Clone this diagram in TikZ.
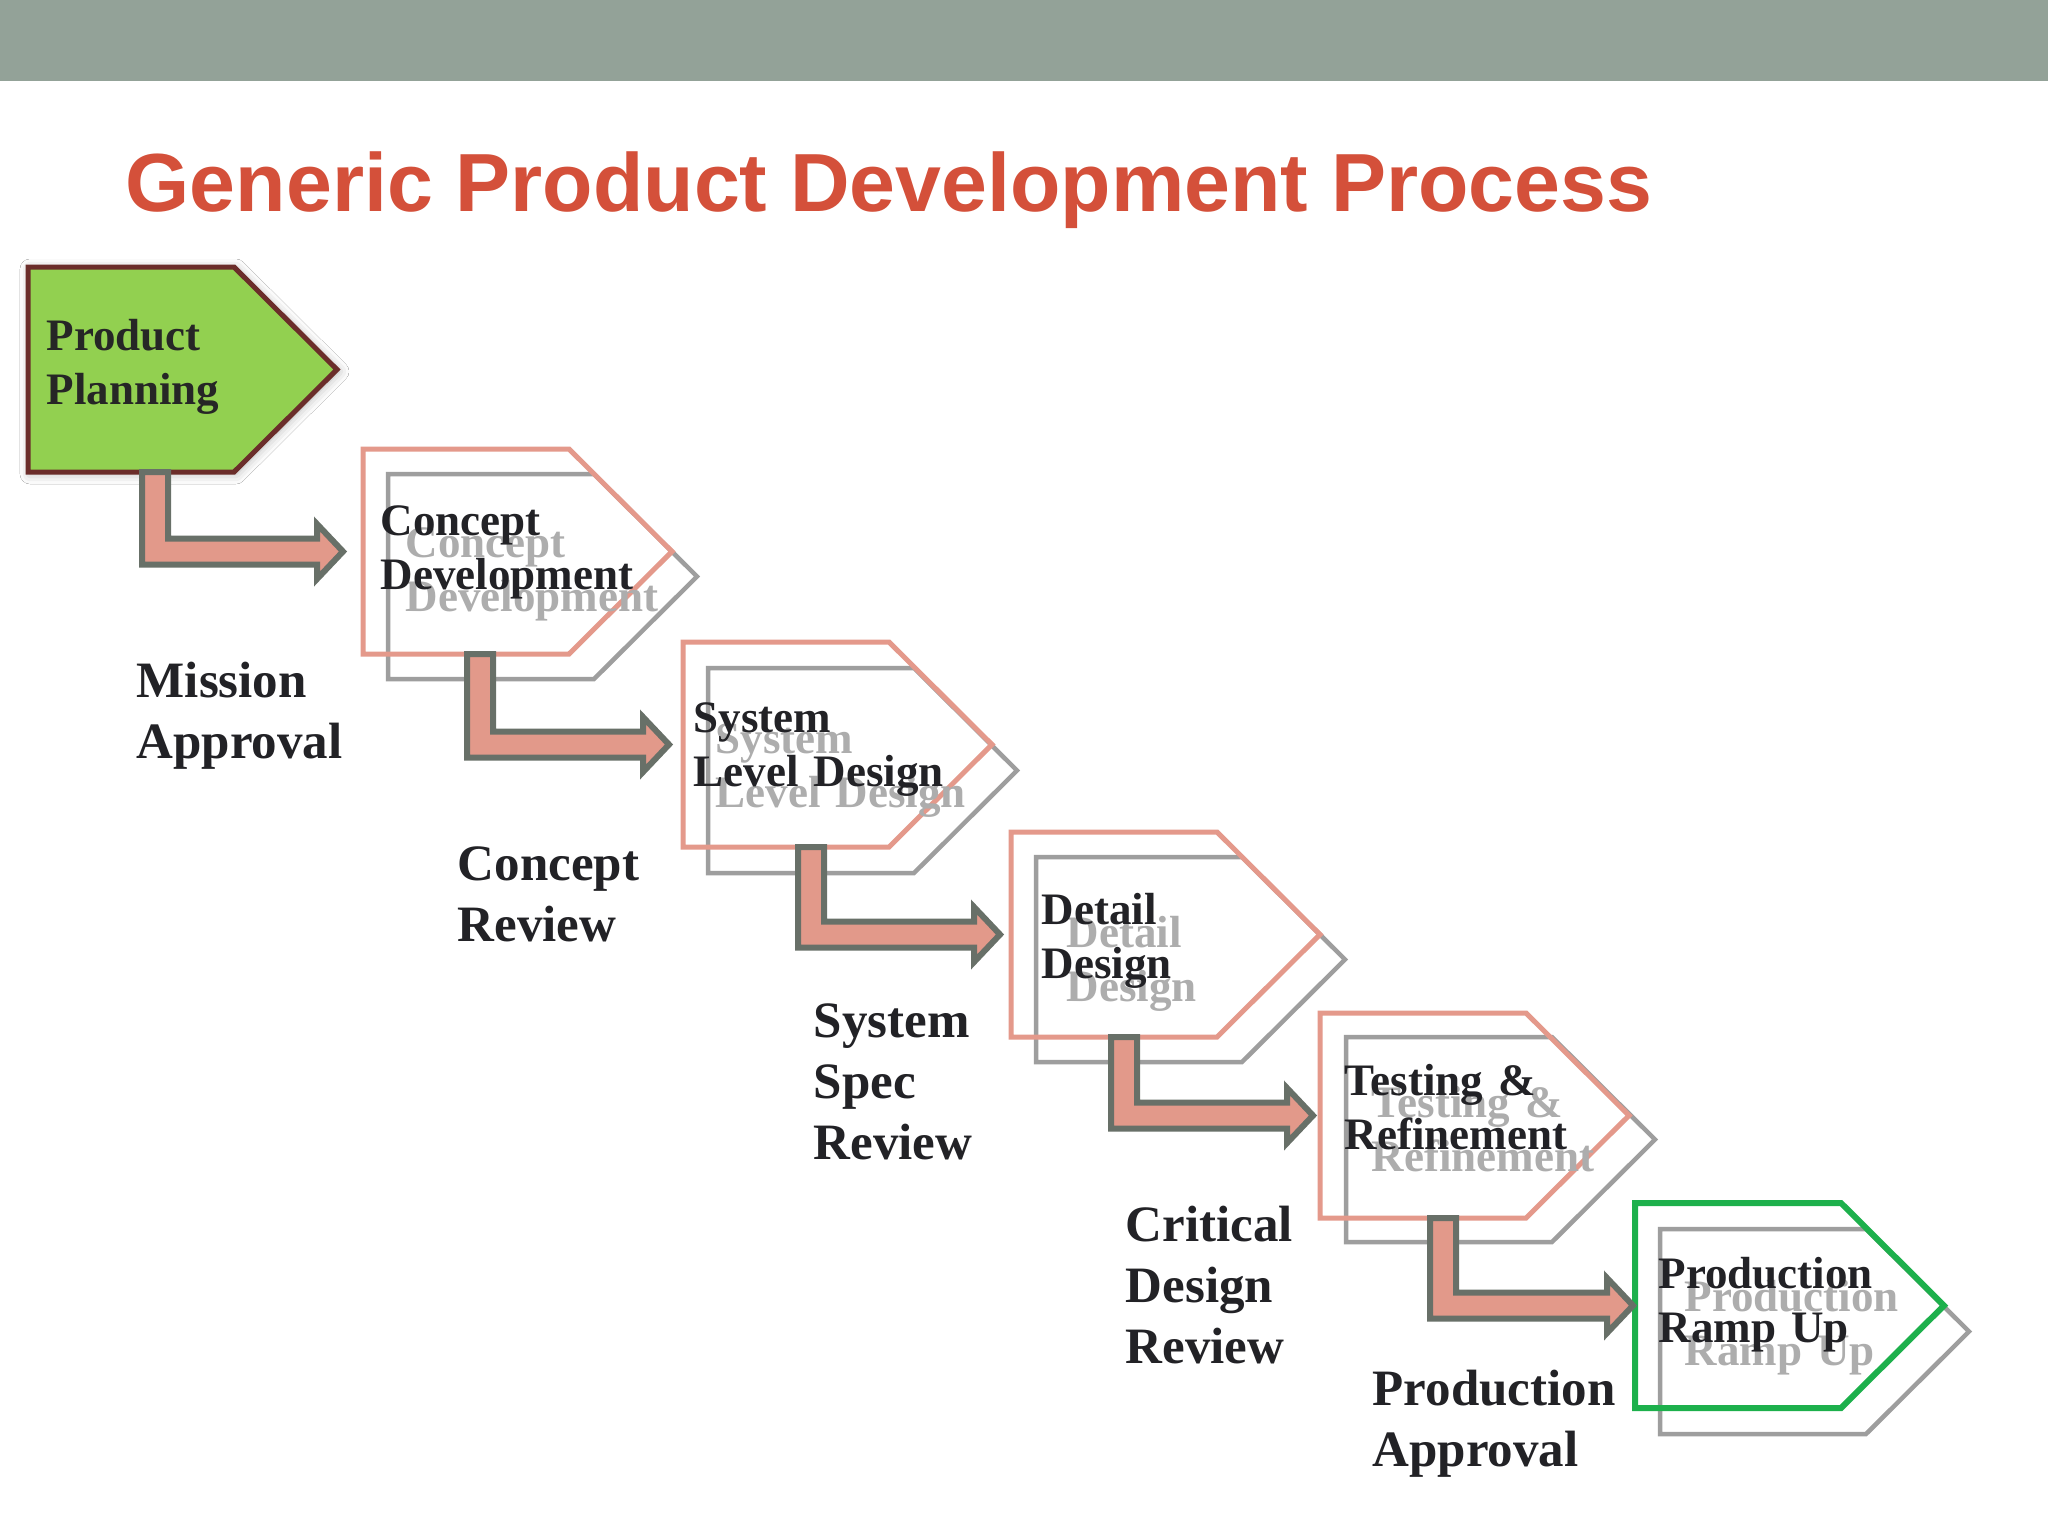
\documentclass[tikz,border=0pt]{standalone}
\usepackage{fontspec}
\setmainfont{Liberation Serif}
\newfontfamily\titlefont{Liberation Sans}
\usepackage{tikz}
\usetikzlibrary{calc,shadows.blur}

\definecolor{barcol}{HTML}{93A298}
\definecolor{titlecol}{HTML}{D4503A}
\definecolor{plangreen}{HTML}{92D050}
\definecolor{planborder}{HTML}{6B2D2A}
\definecolor{salmon}{HTML}{E4998B}
\definecolor{ghostgray}{HTML}{9E9E9E}
\definecolor{rampgreen}{HTML}{1DB04C}
\definecolor{arrowedge}{HTML}{687068}
\definecolor{arrowfill}{HTML}{E2998A}
\definecolor{inkcol}{HTML}{222226}

% pentagon drawn round a stage node, shifted by #2
\newcommand{\pent}[3]{%
  \draw[#3] ($(#1.north west)+#2$) -- ($(#1.north east)+#2$)
    -- ($(#1.east)+#2+(103,0)$) -- ($(#1.south east)+#2$)
    -- ($(#1.south west)+#2$) -- cycle;}

% fat bent arrow: down from #1, then right to the tip at #2
\newcommand{\bentarrow}[2]{%
  \draw[arrowbody] let \p1=(#1), \p2=(#2) in
    (\x1-1.3mm,\y1) -- (\x1-1.3mm,\y2-1.3mm) -- (\x2-3.0mm,\y2-1.3mm)
    -- (\x2-3.0mm,\y2-2.75mm) -- (\x2-0.4mm,\y2) -- (\x2-3.0mm,\y2+2.75mm)
    -- (\x2-3.0mm,\y2+1.3mm) -- (\x1+1.3mm,\y2+1.3mm) -- (\x1+1.3mm,\y1) -- cycle;}

\begin{document}
\begin{tikzpicture}[x=0.1mm, y=-0.1mm,
    stage/.style={rectangle, minimum width=20.6mm, minimum height=20.5mm,
      inner sep=0pt, outer sep=0pt, anchor=north west},
    boxtext/.style={anchor=base west, inner sep=0pt, text width=28mm, align=left,
      font=\fontsize{4.5mm}{5.45mm}\selectfont\bfseries, text=inkcol},
    ghosttext/.style={boxtext, text=ghostgray!85},
    milestone/.style={anchor=base west, inner sep=0pt, text width=28mm, align=left,
      font=\fontsize{5.1mm}{6.1mm}\selectfont\bfseries, text=inkcol},
    ghostline/.style={draw=ghostgray, line width=0.45mm},
    salmonline/.style={draw=salmon, line width=0.5mm},
    rampline/.style={draw=rampgreen, line width=0.6mm},
    arrowbody/.style={draw=arrowedge, fill=arrowfill, line width=0.6mm, line join=miter}]
        \useasboundingbox (0,0) rectangle (2048,1536);
        \fill[white] (0,0) rectangle (2048,1536);
        \fill[barcol] (0,0) rectangle (2048,81);

        % Title
        \node[anchor=base west, inner sep=0pt, text=titlecol,
          font=\titlefont\fontsize{8.25mm}{9mm}\selectfont\bfseries]
          (title) at (125,211) {Generic Product Development Process};

        % Stages
        \node[stage] (pp) at (28,267) {};
        \node[stage] (cd) at (363,449) {};
        \node[stage] (sl) at (683,642) {};
        \node[stage] (dd) at (1011,832) {};
        \node[stage] (tr) at (1320,1013) {};
        \node[stage] (pr) at (1635,1203) {};

        \pent{pp}{(0,0)}{fill=plangreen, draw=planborder, line width=0.5mm,
          blur shadow={shadow xshift=0.2mm, shadow yshift=-0.2mm,
            shadow blur radius=1mm, shadow opacity=30}}
        \pent{cd}{(25,25)}{ghostline}
        \pent{cd}{(0,0)}{salmonline}
        \pent{sl}{(25,26)}{ghostline}
        \pent{sl}{(0,0)}{salmonline}
        \pent{dd}{(25,25)}{ghostline}
        \pent{dd}{(0,0)}{salmonline}
        \pent{tr}{(26,24)}{ghostline}
        \pent{tr}{(0,0)}{salmonline}
        \pent{pr}{(25,26)}{ghostline}
        \pent{pr}{(0,0)}{rampline}

        % Stage names
        \node[boxtext, text=black!85] (pptext) at (46,350) {Product\\Planning};
        \node[ghosttext] (cdghost) at (405,557) {Concept\\Development};
        \node[boxtext] (cdtext) at (380,535) {Concept\\Development};
        \node[ghosttext] (slghost) at (715,753) {System\\Level Design};
        \node[boxtext] (sltext) at (693,732) {System\\Level Design};
        \node[ghosttext] (ddghost) at (1066,947) {Detail\\Design};
        \node[boxtext] (ddtext) at (1041,924) {Detail\\Design};
        \node[ghosttext] (trghost) at (1371,1117) {Testing \&\\Refinement};
        \node[boxtext] (trtext) at (1344,1095) {Testing \&\\Refinement};
        \node[ghosttext] (prghost) at (1684,1311) {Production\\Ramp Up};
        \node[boxtext] (prtext) at (1658,1288) {Production\\Ramp Up};

        % Edges
        \bentarrow{$(pp.south west)+(127,0)$}{$(cd.west)+(-16,0)$}
        \bentarrow{$(cd.south west)+(117,0)$}{$(sl.west)+(-10,0)$}
        \bentarrow{$(sl.south west)+(128,0)$}{$(dd.west)+(-7,0)$}
        \bentarrow{$(dd.south west)+(113,0)$}{$(tr.west)+(-3,0)$}
        \bentarrow{$(tr.south west)+(123,0)$}{$(pr.west)+(2,0)$}

        % Reviews
        \node[milestone] (mission) at (136,697) {Mission\\Approval};
        \node[milestone] (conceptrev) at (457,880) {Concept\\Review};
        \node[milestone] (specrev) at (813,1037) {System\\Spec\\Review};
        \node[milestone] (designrev) at (1125,1241) {Critical\\Design\\Review};
        \node[milestone] (prodappr) at (1372,1405) {Production\\Approval};
    \end{tikzpicture}
\end{document}
